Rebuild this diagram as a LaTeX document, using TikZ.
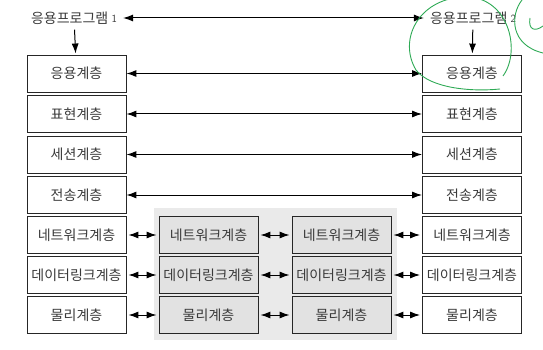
\documentclass[tikz,border=0pt]{standalone}
\usepackage{fontspec}
\newfontfamily\kr{Noto Sans CJK KR}
\usetikzlibrary{arrows.meta}
\definecolor{txt}{HTML}{3A3A3A}
\definecolor{relaybg}{HTML}{EAEAEA}
\definecolor{relayfill}{HTML}{E2E2E2}
\definecolor{pen}{HTML}{2EAA55}
\newcommand{\appno}[1]{\raisebox{1pt}{\sffamily\fontsize{11}{12}\selectfont #1}}
\tikzset{
    layer/.style = {draw=black!85, line width=0.9pt, minimum width=99pt, minimum height=37pt,
        inner sep=0pt, font=\kr\fontsize{14}{16}\selectfont, text=txt},
    relay/.style = {layer, fill=relayfill},
    app/.style = {font=\kr\fontsize{14}{16}\selectfont, text=txt, inner sep=2pt},
    link/.style = {draw, line width=1pt, {Latex[length=10pt,width=7pt]}-{Latex[length=10pt,width=7pt]}},
    hop/.style = {link, shorten <=2pt, shorten >=2pt},
    down/.style = {draw, line width=1pt, -{Latex[length=10pt,width=7pt]}},
}

\begin{document}
\begin{tikzpicture}[x=1pt, y=-1pt]
                \useasboundingbox (0, 0) rectangle (543, 350);
                \fill[relaybg] (154, 208) rectangle (397, 340);

                \node[app] (app1) at (74, 18) {응용프로그램 \appno{1}};
                \node[app] (app2) at (473, 18) {응용프로그램 \appno{2}};

                \node[layer] (l7) at (76.5, 73.5) {응용계층};
                \node[layer] (l6) at (76.5, 114) {표현계층};
                \node[layer] (l5) at (76.5, 154.5) {세션계층};
                \node[layer] (l4) at (76.5, 195) {전송계층};
                \node[layer] (l3) at (76.5, 235) {네트워크계층};
                \node[layer] (l2) at (76.5, 275) {데이터링크계층};
                \node[layer] (l1) at (76.5, 315) {물리계층};

                \node[relay] (m3) at (208.5, 235) {네트워크계층};
                \node[relay] (m2) at (208.5, 275) {데이터링크계층};
                \node[relay] (m1) at (208.5, 315) {물리계층};

                \node[relay] (n3) at (341.5, 235) {네트워크계층};
                \node[relay] (n2) at (341.5, 275) {데이터링크계층};
                \node[relay] (n1) at (341.5, 315) {물리계층};

                \node[layer] (r7) at (472, 73.5) {응용계층};
                \node[layer] (r6) at (472, 114) {표현계층};
                \node[layer] (r5) at (472, 154.5) {세션계층};
                \node[layer] (r4) at (472, 195) {전송계층};
                \node[layer] (r3) at (472, 235) {네트워크계층};
                \node[layer] (r2) at (472, 275) {데이터링크계층};
                \node[layer] (r1) at (472, 315) {물리계층};

                \draw[link, shorten <=4pt, shorten >=4pt] (app1) -- (app2);
                \draw[down, shorten <=3pt, shorten >=1pt] (app1) -- (l7);
                \draw[down, shorten <=3pt, shorten >=1pt] (app2) -- (r7);

                \draw[link] (l7) -- (r7);
                \draw[link] (l6) -- (r6);
                \draw[link] (l5) -- (r5);
                \draw[link] (l4) -- (r4);

                \draw[hop] (l3) -- (m3);
                \draw[hop] (m3) -- (n3);
                \draw[hop] (n3) -- (r3);
                \draw[hop] (l2) -- (m2);
                \draw[hop] (m2) -- (n2);
                \draw[hop] (n2) -- (r2);
                \draw[hop] (l1) -- (m1);
                \draw[hop] (m1) -- (n1);
                \draw[hop] (n1) -- (r1);

                % pen marks
                \draw[pen, line width=0.9pt] (503, 76) .. controls (522, 50) and (508, -6) .. (462, -3)
                    .. controls (418, 0) and (398, 40) .. (416, 70)
                    .. controls (430, 88) and (470, 92) .. (500, 89);
                \draw[pen, line width=0.9pt] (522, 0) .. controls (510, 15) and (510, 45) .. (543, 53);
                \draw[pen, line width=0.9pt] (530, 18) .. controls (528, 30) and (535, 32) .. (543, 26);
\end{tikzpicture}
\end{document}
